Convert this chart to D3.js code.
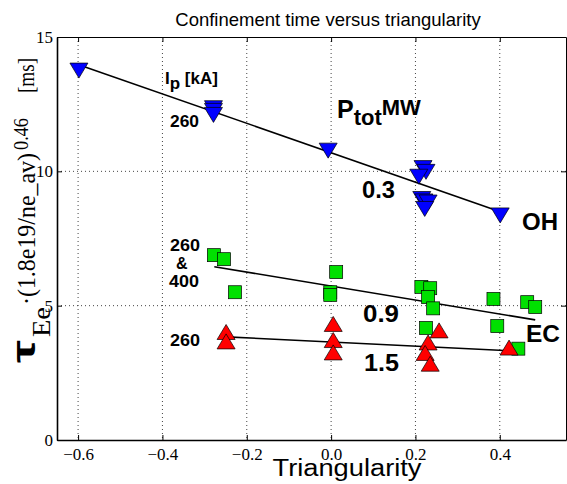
<!DOCTYPE html>
<html><head><meta charset="utf-8">
<script src="https://cdn.jsdelivr.net/npm/d3@7"></script>
<style>
html,body{margin:0;padding:0;background:#fff;}
svg{display:block;}
</style></head>
<body>
<svg id="chart" width="567" height="484"></svg>
<script>
// ---- data ----
const xTicks = [-0.6, -0.4, -0.2, 0.0, 0.2, 0.4];
const yTicks = [0, 5, 10, 15];

// OH (0.3 MW) - blue down triangles
const ohDelta = [-0.598, -0.279, -0.279, -0.279, -0.007, 0.218, 0.225, 0.208, 0.215, 0.220, 0.230, 0.222, 0.401];
const ohTau   = [13.75, 12.35, 12.25, 12.10, 10.77, 10.12, 9.98, 9.80, 8.97, 8.88, 8.84, 8.60, 8.36];
// EC (0.9 MW) - green squares
const ecDelta = [-0.278, -0.254, -0.228, 0.012, -0.002, -0.002, 0.214, 0.235, 0.230, 0.242, 0.225, 0.385, 0.394, 0.465, 0.484, 0.444];
const ecTau   = [6.88, 6.73, 5.50, 6.25, 5.50, 5.40, 5.70, 5.65, 5.32, 4.90, 4.17, 5.25, 4.24, 5.13, 4.95, 3.40];
// 1.5 MW - red up triangles
const hiDelta = [-0.249, -0.249, 0.005, 0.005, 0.005, 0.256, 0.230, 0.223, 0.235, 0.422];
const hiTau   = [4.02, 3.67, 4.32, 3.72, 3.26, 4.08, 3.63, 3.24, 2.84, 3.44];
// fitted lines [start, end]
const ohFitX = [-0.597, 0.401], ohFitY = [13.96, 8.50];
const ecFitX = [-0.277, 0.484], ecFitY = [6.45, 4.47];
const hiFitX = [-0.249, 0.423], hiFitY = [3.84, 3.32];

// ---- layout ----
const svg = d3.select("#chart");
const L = 57, R = 566, T = 37, B = 440;
const x = d3.scaleLinear().domain([-0.65, 0.557]).range([L, R]);
const y = d3.scaleLinear().domain([0, 15]).range([B, T]);
const serif = "'Liberation Serif','Times New Roman',serif";
const sans = "'Liberation Sans',Arial,Helvetica,sans-serif";

// grid
const grid = svg.append("g").attr("stroke", "#444").attr("stroke-width", 1).attr("stroke-dasharray", "1,3");
xTicks.forEach(t => grid.append("line").attr("x1", x(t)).attr("x2", x(t)).attr("y1", T).attr("y2", B));
yTicks.filter(t => t > 0 && t < 15).forEach(t => grid.append("line").attr("x1", L).attr("x2", R).attr("y1", y(t)).attr("y2", y(t)));

// axes
const xAxisB = d3.axisBottom(x).tickValues(xTicks).tickSizeInner(-5).tickSizeOuter(0)
  .tickFormat(d => d3.format(".1f")(d).replace("-", "\u2212"));
const gxb = svg.append("g").attr("transform", `translate(0,${B})`).call(xAxisB)
  .attr("font-family", serif).attr("font-size", 17);
gxb.select(".domain").attr("stroke-width", 1.6);
gxb.selectAll("text").attr("fill", "#000").attr("y", 8).attr("dy", "0.71em");
const gxt = svg.append("g").attr("transform", `translate(0,${T})`).call(d3.axisTop(x).tickValues(xTicks).tickSizeInner(-5).tickSizeOuter(0).tickFormat(""));
gxt.select(".domain").attr("stroke-width", 1);

const gyl = svg.append("g").attr("transform", `translate(${L},0)`).call(d3.axisLeft(y).tickValues(yTicks).tickSizeInner(-5).tickSizeOuter(0))
  .attr("font-family", serif).attr("font-size", 17);
gyl.select(".domain").attr("stroke-width", 1.6);
gyl.selectAll("text").attr("fill", "#000").attr("x", -4);
const gyr = svg.append("g").attr("transform", `translate(${R},0)`).call(d3.axisRight(y).tickValues(yTicks).tickSizeInner(-5).tickSizeOuter(0).tickFormat(""));
gyr.select(".domain").attr("stroke-width", 1);

// fit lines
const line = d3.line().x(d => x(d[0])).y(d => y(d[1]));
[[ohFitX, ohFitY], [ecFitX, ecFitY], [hiFitX, hiFitY]].forEach(([fx, fy]) => {
  svg.append("path").datum(fx.map((v, i) => [v, fy[i]])).attr("d", line)
    .attr("fill", "none").attr("stroke", "#000").attr("stroke-width", 1.6);
});

// markers
function tri(down) {
  const w = 9, h = 7.5;
  return down ? `M${-w},${-h}L${w},${-h}L0,${h}Z` : `M${-w},${h}L${w},${h}L0,${-h}Z`;
}
svg.append("g").selectAll("path").data(ohDelta.map((d, i) => [d, ohTau[i]])).join("path")
  .attr("d", tri(true)).attr("transform", d => `translate(${x(d[0])},${y(d[1])})`)
  .attr("fill", "#0000ff").attr("stroke", "#000").attr("stroke-width", 0.7);
svg.append("g").selectAll("rect").data(ecDelta.map((d, i) => [d, ecTau[i]])).join("rect")
  .attr("x", d => x(d[0]) - 6.5).attr("y", d => y(d[1]) - 6.5).attr("width", 13).attr("height", 13)
  .attr("fill", "#00e000").attr("stroke", "#000").attr("stroke-width", 0.7);
svg.append("g").selectAll("path").data(hiDelta.map((d, i) => [d, hiTau[i]])).join("path")
  .attr("d", tri(false)).attr("transform", d => `translate(${x(d[0])},${y(d[1])})`)
  .attr("fill", "#ff0000").attr("stroke", "#000").attr("stroke-width", 0.7);

// title
svg.append("text").attr("x", 328).attr("y", 26).attr("text-anchor", "middle")
  .attr("font-family", sans).attr("font-size", 18.5).text("Confinement time versus triangularity");
// x label
svg.append("text").attr("x", 347).attr("y", 476).attr("text-anchor", "middle")
  .attr("font-family", sans).attr("font-size", 23).attr("textLength", 149).attr("lengthAdjust", "spacingAndGlyphs").text("Triangularity");

// y label (rotated pieces)
const yl = svg.append("g").attr("transform", "rotate(-90)");
function piece(txt, sy0, sy1, bx, size, fam, weight) {
  yl.append("text").attr("x", -sy0).attr("y", bx).attr("font-family", fam).attr("font-size", size)
    .attr("font-weight", weight || "normal").attr("textLength", sy0 - sy1).attr("lengthAdjust", "spacingAndGlyphs").text(txt);
}
piece("\u03C4", 363, 340, 35, 34, sans, "bold");
piece("Ee", 337, 307, 50, 26, serif);
piece("\u00B7(1.8e19/ne_av)", 305, 153, 35, 25, serif);
piece("0.46", 150, 118, 28, 20, serif);
piece("[ms]", 93, 58, 34, 24, serif);

// annotations
function ann(txt, ax, ay, size, len) {
  const t = svg.append("text").attr("x", ax).attr("y", ay).attr("font-family", sans).attr("font-weight", "bold")
    .attr("font-size", size).text(txt);
  if (len) t.attr("textLength", len).attr("lengthAdjust", "spacingAndGlyphs");
  return t;
}
// Ip [kA]
const ip = svg.append("text").attr("x", 165).attr("y", 84).attr("font-family", sans).attr("font-weight", "bold").attr("font-size", 17);
ip.append("tspan").text("I");
ip.append("tspan").attr("dy", 5).text("p");
ip.append("tspan").attr("dy", -5).text(" [kA]");
ann("260", 170, 127, 16.5, 29);
ann("260", 170, 251, 16, 30);
ann("&", 176, 269, 16);
ann("400", 169, 287, 16, 30);
ann("260", 170, 346, 16.5, 30);
// Ptot MW
const pt = svg.append("text").attr("x", 337).attr("y", 118).attr("font-family", sans).attr("font-weight", "bold").attr("font-size", 25);
pt.append("tspan").text("P");
pt.append("tspan").attr("dy", 7).attr("font-size", 22).text("tot");
pt.append("tspan").attr("dy", -10).attr("font-size", 22).text("MW");
ann("0.3", 362, 198, 23, 33);
ann("OH", 522, 230, 23, 36);
ann("0.9", 363, 322, 23, 36);
ann("EC", 526, 342, 23, 34);
ann("1.5", 364, 371, 23, 35);
</script>
</body></html>
